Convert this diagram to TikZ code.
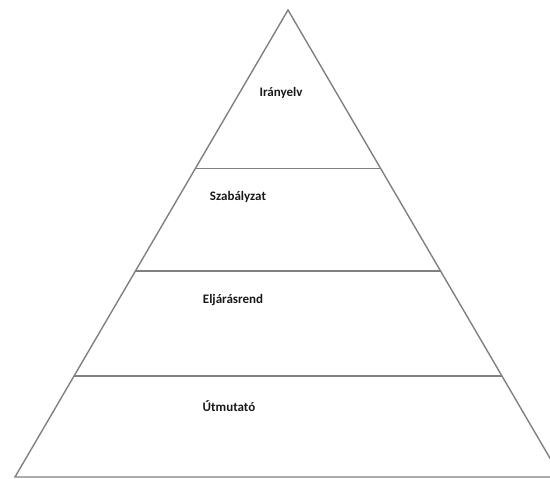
\documentclass[tikz,border=0pt]{standalone}
\usepackage{fontspec}
\setmainfont{Carlito}
\usepackage{tikz}
\usetikzlibrary{calc}

\begin{document}
\begin{tikzpicture}[
  x=1pt, y=-1pt,
  edge/.style={draw=black!50, line width=1.4pt},
  lvl/.style={font=\fontsize{13}{15}\selectfont\bfseries, text=black!90, inner sep=0pt}
]
\useasboundingbox (0,0) rectangle (550,479);
\begin{scope}
\clip (0,0) rectangle (550,479);
% corners of the pyramid
\coordinate (apex) at (288,10);
\coordinate (bl) at (15,477);
\coordinate (br) at (561,477);
\draw[edge, line join=miter] (bl) -- (apex) -- (br) -- cycle;
% level separators
\coordinate (l1a) at ($(apex)!0.340!(bl)$);
\coordinate (l1b) at ($(apex)!0.340!(br)$);
\coordinate (l2a) at ($(apex)!0.559!(bl)$);
\coordinate (l2b) at ($(apex)!0.559!(br)$);
\coordinate (l3a) at ($(apex)!0.784!(bl)$);
\coordinate (l3b) at ($(apex)!0.784!(br)$);
\draw[edge] (l1a) -- (l1b);
\draw[edge] (l2a) -- (l2b);
\draw[edge] (l3a) -- (l3b);
\end{scope}
% labels
\node[lvl] (iranyelv) at (281,93) {Irányelv};
\node[lvl] (szabalyzat) at (238,197) {Szabályzat};
\node[lvl] (eljarasrend) at (233,300) {Eljárásrend};
\node[lvl] (utmutato) at (229,406) {Útmutató};
\end{tikzpicture}
\end{document}
